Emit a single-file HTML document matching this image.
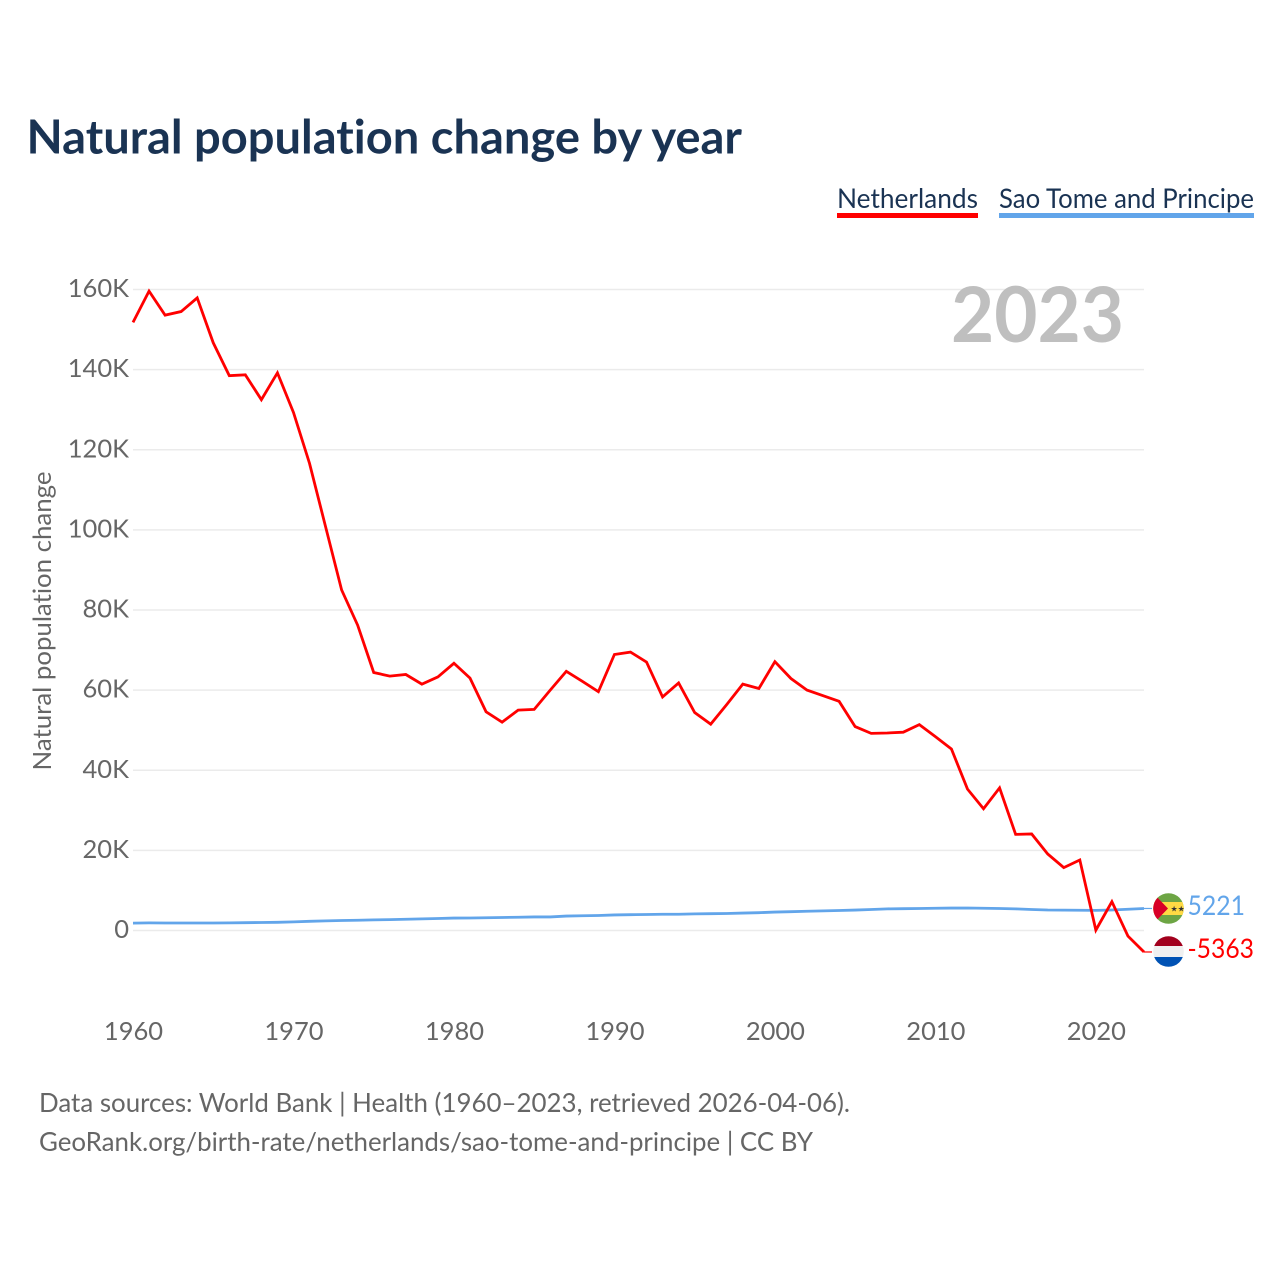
<!DOCTYPE html>
<html lang="en">
<head>
<meta charset="utf-8">
<title>Natural population change by year</title>
<style>
html,body{margin:0;padding:0;background:#fff;width:1280px;height:1280px;overflow:hidden}
svg{display:block}
text{font-family:"Lato","Carlito","Liberation Sans",sans-serif;font-variant-ligatures:none}
</style>
</head>
<body>
<svg id="chart" xmlns="http://www.w3.org/2000/svg" width="1280" height="1280" viewBox="0 0 1280 1280">
  <rect width="1280" height="1280" fill="#fff"/>
  <text x="26.5" y="153.5" font-size="47" font-weight="700" fill="#1a3353" textLength="715.5" lengthAdjust="spacingAndGlyphs">Natural population change by year</text>

  <g>
    <text x="837" y="208" font-size="27.5" fill="#1a3353" textLength="141" lengthAdjust="spacingAndGlyphs">Netherlands</text>
    <rect x="837" y="213" width="141" height="5" fill="#ff0000"/>
  </g>
  <g>
    <text x="999" y="208" font-size="27.5" fill="#1a3353" textLength="255" lengthAdjust="spacingAndGlyphs">Sao Tome and Principe</text>
    <rect x="999" y="213" width="255" height="5" fill="#62a5ea"/>
  </g>

  <g id="grid"></g>
  <text x="951" y="342" font-size="77" font-weight="700" fill="#bfbfbf" textLength="173" lengthAdjust="spacingAndGlyphs">2023</text>
  <g id="yTicks"></g>
  <g id="xTicks"></g>
  <text transform="translate(51,770.5) rotate(-90)" x="0" y="0" font-size="25.5" fill="#666" textLength="299" lengthAdjust="spacingAndGlyphs">Natural population change</text>

  <polyline id="lineSao" fill="none" stroke="#62a5ea" stroke-width="2.8" stroke-linejoin="round"/>
  <polyline id="lineNl" fill="none" stroke="#ff0000" stroke-width="2.8" stroke-linejoin="miter"/>
  <line id="leaderSao" stroke="#62a5ea" stroke-width="1.2"/>
  <line id="leaderNl" stroke="#ff0000" stroke-width="1.2"/>

  <defs>
    <clipPath id="clipSao"><circle cx="1168.5" cy="908.5" r="15.3"/></clipPath>
    <clipPath id="clipNl"><circle cx="1168.5" cy="951.5" r="15.3"/></clipPath>
  </defs>
  <g clip-path="url(#clipSao)">
    <rect x="1153" y="893" width="31" height="31" fill="#6da544"/>
    <rect x="1153" y="902" width="31" height="13" fill="#ffda44"/>
    <polygon points="1153,893 1168,908.5 1153,924" fill="#d80027"/>
    <text x="1170.5" y="911.5" font-size="8" fill="#333">★★</text>
  </g>
  <g clip-path="url(#clipNl)">
    <rect x="1153" y="936" width="31" height="10" fill="#a2001d"/>
    <rect x="1153" y="946" width="31" height="11" fill="#f0f0f0"/>
    <rect x="1153" y="957" width="31" height="10" fill="#0052b4"/>
  </g>
  <text id="valSao" x="1187.5" y="915" font-size="27" fill="#62a5ea" textLength="57.5" lengthAdjust="spacingAndGlyphs"></text>
  <text id="valNl" x="1187.5" y="958" font-size="27" fill="#ff0000" textLength="66.5" lengthAdjust="spacingAndGlyphs"></text>

  <g>
    <text x="39" y="1112" font-size="26.5" fill="#666" textLength="811" lengthAdjust="spacingAndGlyphs">Data sources: World Bank | Health (1960–2023, retrieved 2026-04-06).</text>
    <text x="39" y="1151" font-size="26.5" fill="#666" textLength="774" lengthAdjust="spacingAndGlyphs">GeoRank.org/birth-rate/netherlands/sao-tome-and-principe | CC BY</text>
  </g>
</svg>
<script>
const startYear = 1960;
const netherlands = [
  151.8,159.6,153.6,154.5,157.9,146.7,138.5,138.7,132.5,139.2,
  129.3,116.6,100.8,85.0,76.2,64.4,63.5,63.9,61.5,63.3,
  66.7,63.0,54.6,52.0,55.0,55.2,60.0,64.7,62.2,59.6,
  68.9,69.5,67.0,58.3,61.8,54.4,51.5,56.4,61.5,60.4,
  67.1,62.9,60.0,58.6,57.2,50.9,49.2,49.3,49.5,51.4,
  48.4,45.3,35.3,30.4,35.6,24.0,24.1,19.1,15.7,17.6,
  0.1,7.2,-1.4,-5.363
];
const saoTome = [
  1.85,1.9,1.88,1.87,1.87,1.87,1.9,1.95,2.0,2.05,
  2.15,2.3,2.4,2.5,2.55,2.65,2.72,2.8,2.9,3.0,
  3.1,3.12,3.18,3.25,3.3,3.38,3.38,3.6,3.68,3.75,
  3.88,3.95,4.0,4.05,4.05,4.15,4.2,4.25,4.35,4.45,
  4.6,4.7,4.8,4.9,5.0,5.1,5.25,5.4,5.45,5.5,
  5.55,5.6,5.62,5.55,5.5,5.4,5.25,5.12,5.08,5.05,
  5.02,5.12,5.3,5.5
];
const yTickValues = [0,20,40,60,80,100,120,140,160];
const yTickLabels = ["0","20K","40K","60K","80K","100K","120K","140K","160K"];
const xTickValues = [1960,1970,1980,1990,2000,2010,2020];
const latestValues = ["5221","-5363"];

const NS = "http://www.w3.org/2000/svg";
const xScale = function (year) { return 133 + (year - 1960) * (1144 - 133) / 63; };
const yScale = function (k) { return 930.5 - k * (641 / 160); };

function makeEl(tag, parentId) {
  const el = document.createElementNS(NS, tag);
  document.getElementById(parentId).appendChild(el);
  return el;
}

yTickValues.forEach(function (v, i) {
  const gl = makeEl("line", "grid");
  
  
  gl.setAttribute("x1", 133);
  gl.setAttribute("x2", 1144);
  gl.setAttribute("y1", yScale(v));
  gl.setAttribute("y2", yScale(v));
  gl.setAttribute("stroke", "#ebebeb");
  gl.setAttribute("stroke-width", 1.5);

  const t = makeEl("text", "yTicks");
  
  
  t.setAttribute("x", 129);
  t.setAttribute("y", yScale(v) + 7.5);
  t.setAttribute("text-anchor", "end");
  t.setAttribute("font-size", 25.5);
  t.setAttribute("fill", "#666");
  t.textContent = yTickLabels[i];
});

xTickValues.forEach(function (yr) {
  const t = makeEl("text", "xTicks");
  
  
  t.setAttribute("x", xScale(yr) + 0.5);
  t.setAttribute("y", 1040);
  t.setAttribute("text-anchor", "middle");
  t.setAttribute("font-size", 25.5);
  t.setAttribute("fill", "#666");
  t.textContent = yr;
});

function toPoints(series) {
  return series.map(function (v, i) {
    return xScale(startYear + i).toFixed(2) + "," + yScale(v).toFixed(2);
  }).join(" ");
}
document.getElementById("lineNl").setAttribute("points", toPoints(netherlands));
document.getElementById("lineSao").setAttribute("points", toPoints(saoTome));

function setLeader(id, series) {
  const el = document.getElementById(id);
  const last = series[series.length - 1];
  el.setAttribute("x1", xScale(startYear + series.length - 1));
  el.setAttribute("x2", 1152);
  el.setAttribute("y1", yScale(last));
  el.setAttribute("y2", yScale(last));
}
setLeader("leaderNl", netherlands);
setLeader("leaderSao", saoTome);

document.getElementById("valSao").textContent = latestValues[0];
document.getElementById("valNl").textContent = latestValues[1];
</script>
</body>
</html>
